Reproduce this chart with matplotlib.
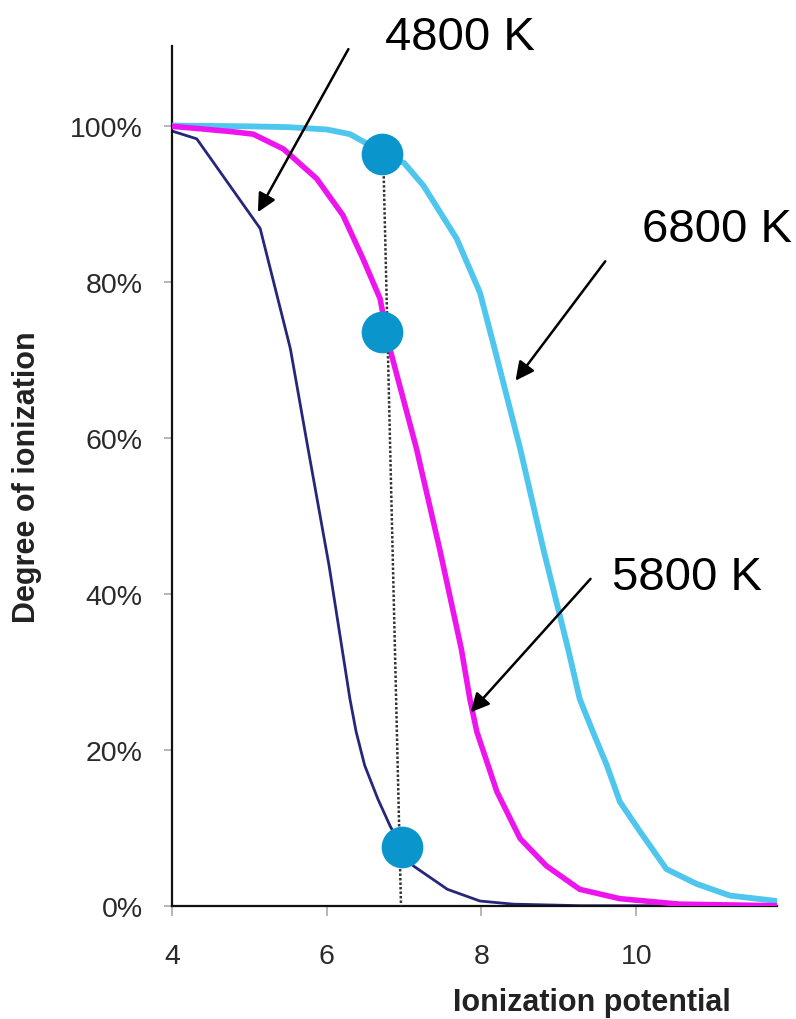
import matplotlib
matplotlib.use("Agg")
import matplotlib.pyplot as plt
from matplotlib.ticker import FuncFormatter

plt.rcParams["font.family"] = ["Liberation Sans", "DejaVu Sans"]

# ionization potential (x) vs degree of ionization (%)
x_6800 = [4.0, 5.0, 5.5, 6.0, 6.3, 6.5, 6.72, 7.0, 7.25, 7.68, 7.98, 8.17, 8.50, 8.80,
          9.12, 9.27, 9.44, 9.62, 9.79, 10.05, 10.39, 10.78, 11.21, 11.82]
y_6800 = [100.0, 99.9, 99.8, 99.5, 98.9, 97.8, 96.4, 95.2, 92.3, 85.5, 78.6, 71.4, 58.6, 45.7,
          32.9, 26.5, 22.3, 18.0, 13.3, 9.5, 4.7, 2.8, 1.3, 0.6]

x_5800 = [4.0, 4.36, 4.79, 5.05, 5.44, 5.87, 6.21, 6.47, 6.69, 6.80, 7.16, 7.46, 7.74, 7.85,
          7.94, 8.20, 8.50, 8.84, 9.27, 9.79, 10.56, 11.82]
y_5800 = [99.9, 99.6, 99.2, 98.9, 97.0, 93.2, 88.5, 82.9, 77.8, 72.0, 58.6, 45.7, 32.9, 26.5,
          22.3, 14.6, 8.6, 5.1, 2.1, 0.9, 0.2, 0.0]

x_4800 = [4.0, 4.32, 5.14, 5.53, 5.76, 6.03, 6.30, 6.38, 6.49, 6.66, 6.82, 6.97, 7.12, 7.56,
          7.98, 8.41, 9.28, 11.82]
y_4800 = [99.3, 98.3, 86.8, 71.4, 58.5, 43.6, 26.5, 22.3, 18.0, 13.7, 10.2, 7.5, 5.1, 2.1,
          0.6, 0.2, 0.0, 0.0]

# the three highlighted points and the dotted guide through them
dot_x = [6.72, 6.71, 6.97]
dot_y = [96.4, 73.5, 7.5]
guide_x = [6.73, 6.96]
guide_y = [96.4, 0.0]

x_ticks = [4, 6, 8, 10]
y_ticks = [0, 20, 40, 60, 80, 100]

# arrow (head, tail) in data units and label text
labels = ["4800 K", "6800 K", "5800 K"]
arrow_heads = [(5.11, 88.9), (8.44, 67.3), (7.86, 24.8)]
arrow_tails = [(6.28, 109.8), (9.60, 82.6), (9.41, 41.9)]
label_pos = [(385, 50), (642, 242), (612, 590)]  # pixel left/baseline

W, H = 796, 1020
fig = plt.figure(figsize=(W / 100, H / 100), dpi=100)
ax = fig.add_axes([172 / W, 1 - 906.7 / H, 605 / W, (906.7 - 47) / H])

ax.plot(x_4800, y_4800, color="#26267a", linewidth=2.0, zorder=2)
ax.plot(x_6800, y_6800, color="#4fc6ee", linewidth=4.2, zorder=3)
ax.plot(x_5800, y_5800, color="#ee14ee", linewidth=4.0, zorder=4)
ax.plot(guide_x, guide_y, color="#333333", linestyle=(0, (1, 0.8)), linewidth=1.8, zorder=5)
ax.plot(dot_x, dot_y, "o", color="#0a96cc", markersize=30, markeredgewidth=0, zorder=6)

ax.set_xlim(4, 11.82)
ax.set_ylim(0, 110.2)
ax.set_xticks(x_ticks)
ax.set_yticks(y_ticks)
ax.yaxis.set_major_formatter(FuncFormatter(lambda v, _: f"{v:.0f}%"))

for side in ("top", "right"):
    ax.spines[side].set_visible(False)
for side in ("left", "bottom"):
    ax.spines[side].set_linewidth(1.6)
    ax.spines[side].set_color("#111111")

ax.tick_params(axis="y", direction="out", length=6, width=1.2, color="#aaaaaa",
               labelsize=20.5, labelcolor="#2a2a2a", pad=15)
ax.tick_params(axis="x", direction="out", length=7, width=1.2, color="#aaaaaa",
               labelsize=20.5, labelcolor="#2a2a2a", pad=20)

fig.text(27 / W, 1 - 477 / H, "Degree of ionization", rotation=90, ha="center", va="center",
         fontsize=22, fontweight="bold", color="#222222")
fig.text(592 / W, 1 - 1003 / H, "Ionization potential", ha="center", va="center",
         fontsize=22, fontweight="bold", color="#222222")

for text, head, tail, (px, py) in zip(labels, arrow_heads, arrow_tails, label_pos):
    ax.annotate("", xy=head, xytext=tail, xycoords="data", textcoords="data",
                arrowprops=dict(arrowstyle="-|>", color="black", linewidth=1.8,
                                mutation_scale=28, shrinkA=0, shrinkB=0),
                annotation_clip=False, zorder=7)
    fig.text(px / W, 1 - py / H, text, ha="left", va="baseline", fontsize=34, color="black")

fig.savefig("out.png", dpi=100)
